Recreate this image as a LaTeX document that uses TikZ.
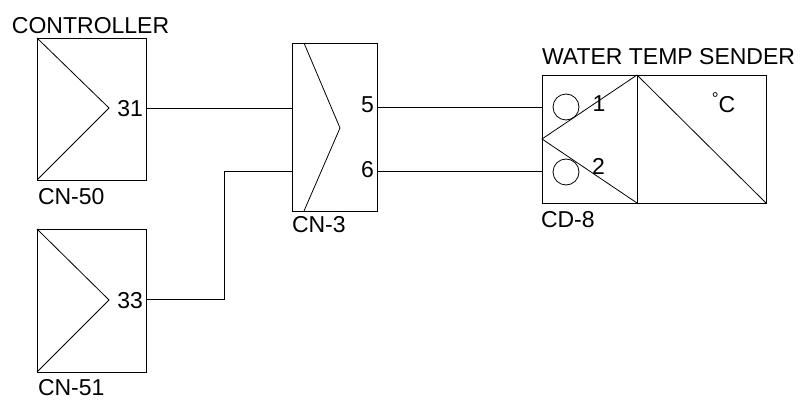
\documentclass[tikz,border=0pt]{standalone}
\usepackage{fontspec}
\setmainfont{Liberation Sans}
\begin{document}
\begin{tikzpicture}[x=1pt,y=-1pt,
  box/.style={draw,line width=0.8pt,inner sep=0pt,outer sep=0pt},
  wire/.style={line width=0.8pt},
  lbl/.style={inner sep=0pt,outer sep=0pt,anchor=base west,font=\fontsize{23}{27}\selectfont},
  pin/.style={inner sep=0pt,outer sep=0pt,anchor=base east,font=\fontsize{23}{27}\selectfont}]
\useasboundingbox (0,0) rectangle (812,401);
% CN-50
\node[box,minimum width=109pt,minimum height=142pt] (cn50) at (91.5,109) {};
\coordinate (a50) at (109,108);
\draw[wire] (cn50.north west) -- (a50) -- (cn50.south west);
\node[pin] (t31) at (143,117) {31};
\node[lbl] (tctl) at (12,34) {CONTROLLER};
\node[lbl] (t50) at (38,205) {CN-50};
% CN-51
\node[box,minimum width=109pt,minimum height=143pt] (cn51) at (91.5,300.5) {};
\coordinate (a51) at (109,300);
\draw[wire] (cn51.north west) -- (a51) -- (cn51.south west);
\node[pin] (t33) at (143,308) {33};
\node[lbl] (t51) at (38,395) {CN-51};
% CN-3
\node[box,minimum width=85pt,minimum height=168pt] (cn3) at (334.5,127) {};
\coordinate (z1) at (304,43);
\coordinate (z2) at (340,128);
\coordinate (z3) at (304,211);
\draw[wire] (z1) -- (z2) -- (z3);
\node[pin] (t5) at (374,113) {5};
\node[pin] (t6) at (374,178) {6};
\node[lbl] (t3) at (292,233) {CN-3};
% CD-8
\node[box,minimum width=95pt,minimum height=128pt] (cd8) at (589.5,139) {};
\node[box,minimum width=129pt,minimum height=128pt] (snd) at (701.5,139) {};
\draw[wire] (cd8.north east) -- (cd8.west) -- (cd8.south east);
\draw[wire] (snd.north west) -- (snd.south east);
\node[draw,circle,line width=0.8pt,minimum size=26pt,inner sep=0pt] (c1) at (566,107) {};
\node[draw,circle,line width=0.8pt,minimum size=26pt,inner sep=0pt] (c2) at (566,172) {};
\node[lbl] (t1) at (592.5,112) {1};
\node[lbl] (t2) at (592,175) {2};
\node[lbl] (tdeg) at (711.8,113) {\raisebox{8pt}{\fontsize{17}{20}\selectfont °}C};
\node[lbl] (tws) at (542,65) {WATER TEMP SENDER};
\node[lbl] (t8) at (541,228) {CD-8};
% wires
\coordinate (p31) at (146,108);
\coordinate (p33) at (146,299);
\coordinate (k1) at (224,299);
\coordinate (k2) at (224,171);
\coordinate (in31) at (292,108);
\coordinate (in33) at (292,171);
\coordinate (o5) at (377,107);
\coordinate (o6) at (377,171);
\coordinate (s1) at (542,107);
\coordinate (s2) at (542,171);
\draw[wire] (p31) -- (in31);
\draw[wire] (p33) -- (k1) -- (k2) -- (in33);
\draw[wire] (o5) -- (s1);
\draw[wire] (o6) -- (s2);
\end{tikzpicture}
\end{document}
